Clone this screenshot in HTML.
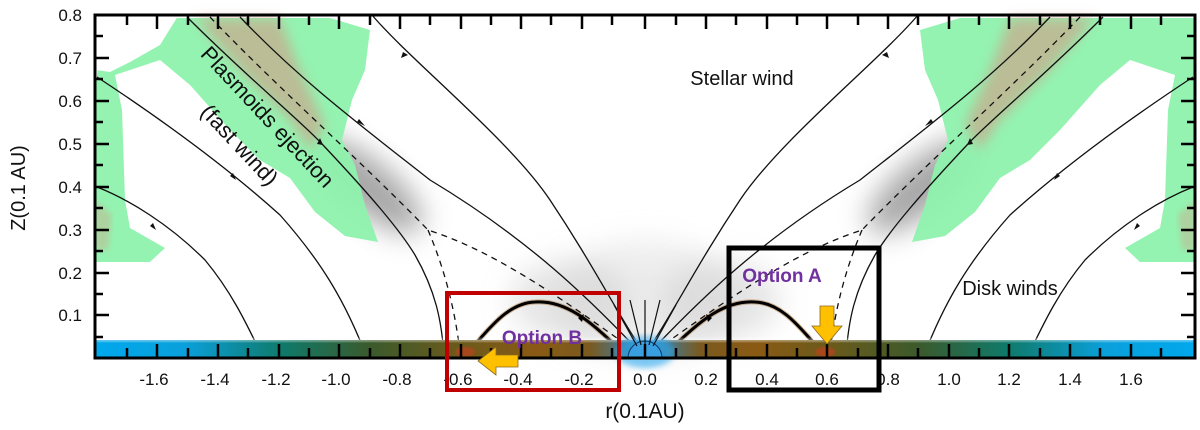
<!DOCTYPE html>
<html><head><meta charset="utf-8"><style>
html,body{margin:0;padding:0;background:#fff;}
svg{display:block;font-family:"Liberation Sans",sans-serif;}
</style></head><body>
<svg width="1200" height="430" viewBox="0 0 1200 430" xmlns="http://www.w3.org/2000/svg">
<defs>
<filter id="blur8" x="-50%" y="-50%" width="200%" height="200%"><feGaussianBlur stdDeviation="14"/></filter>
<filter id="blur5" x="-30%" y="-30%" width="160%" height="160%"><feGaussianBlur stdDeviation="6"/></filter>
<filter id="blur3"><feGaussianBlur stdDeviation="3"/></filter>
<filter id="blur1"><feGaussianBlur stdDeviation="1.2"/></filter>
<linearGradient id="disk" x1="0" x2="1" y1="0" y2="0">
<stop offset="0" stop-color="#00a8ec"/>
<stop offset="0.08" stop-color="#0aa0dc"/>
<stop offset="0.17" stop-color="#0f7a6a"/>
<stop offset="0.25" stop-color="#3b5a2c"/>
<stop offset="0.33" stop-color="#6a5a1c"/>
<stop offset="0.4" stop-color="#8a5a14"/>
<stop offset="0.45" stop-color="#7a5a20"/>
<stop offset="0.5" stop-color="#2a8ad0"/>
<stop offset="0.55" stop-color="#7a5a20"/>
<stop offset="0.6" stop-color="#8a5a14"/>
<stop offset="0.67" stop-color="#6a5a1c"/>
<stop offset="0.75" stop-color="#3b5a2c"/>
<stop offset="0.83" stop-color="#0f7a6a"/>
<stop offset="0.92" stop-color="#0aa0dc"/>
<stop offset="1" stop-color="#00a8ec"/>
</linearGradient>
<g id="half">
  <ellipse cx="925" cy="185" rx="70" ry="26" fill="#888" opacity="0.75" transform="rotate(-38 925 185)" filter="url(#blur8)"/>
  <ellipse cx="720" cy="300" rx="60" ry="40" fill="#ccc" opacity="0.5" filter="url(#blur8)"/>
  <path d="M920,30 L960,18 L1195,18 L1195,262 L1140,262 L1125,248 L1160,228 L1165,200 L1168,110 L1175,75 L1130,60 L1100,85 L1060,130 L1030,160 L1000,178 L975,212 L945,236 L912,242 L925,205 L935,165 L948,140 L938,100 L925,70 Z" fill="#8ef2ad" opacity="0.95"/>
  <path d="M1010,18 L1095,18 L1050,70 L1000,120 L980,150 L965,125 L990,70 Z" fill="#d49a85" opacity="0.6" filter="url(#blur5)"/>
  <path d="M1178,215 L1195,200 L1195,250 L1182,250 Z" fill="#d4a085" opacity="0.4" filter="url(#blur3)"/>
  <g fill="none" stroke="#111" stroke-width="1.3">
    <path d="M918,15 C880,60 780,140 740,200 C700,260 680,300 652,344"/>
    <path d="M1050,17 C990,80 930,125 860,180 C760,240 700,300 656,346"/>
    <path d="M1103,17 C1040,80 990,120 967,145 C920,195 890,230 875,255 C855,290 848,320 846,358"/>
    <path d="M1193,77 C1120,125 1060,170 1010,215 C970,260 945,300 923,358"/>
    <path d="M1193,187 C1160,200 1120,225 1085,260 C1060,290 1045,320 1027,358"/>
    <path d="M1080,17 C1010,90 930,160 862,230 C800,250 740,290 662,346" stroke-dasharray="6,5"/>
    <path d="M862,230 C845,270 835,310 830,352" stroke-dasharray="6,5"/>
  </g>
  <g fill="#111">
    <path d="M887,52 l-5,3 l7,3 z"/>
    <path d="M933,122 l-8,4 l6,-7 z"/>
    <path d="M967,145 l3,-7 l3,6 z"/>
    <path d="M1057,173 l-3,7 l6,-4 z"/>
    <path d="M1137,223 l-3,7 l6,-4 z"/>
  </g>
  <path d="M668,352 C700,320 725,300 755,302 C785,303 805,335 822,352" fill="none" stroke="#a0662a" stroke-width="5" opacity="0.45"/>
  <path d="M668,352 C700,320 725,300 755,302 C785,303 805,335 822,352" fill="none" stroke="#000" stroke-width="3"/>
  <path d="M712,318 l-6,-4 l2,8 z" fill="#000"/>
</g>
</defs>

<rect x="95" y="15" width="1100" height="343" fill="#fff"/>
<ellipse cx="645" cy="300" rx="90" ry="60" fill="#ddd" opacity="0.5" filter="url(#blur8)"/>
<use href="#half"/>
<use href="#half" transform="translate(1290,0) scale(-1,1)"/>
<path d="M96,16 L178,16 L160,45 L130,62 L110,72 L96,70 Z" fill="#fff"/>
<path d="M96,88 L96,16 L102,16 Z" fill="#fff"/>

<rect x="96" y="340" width="1098" height="18" fill="url(#disk)"/>
<rect x="96" y="338" width="1098" height="4" fill="#fff" opacity="0.4" filter="url(#blur1)"/>
<ellipse cx="645" cy="352" rx="30" ry="16" fill="#2aa8f0" opacity="0.6" filter="url(#blur3)"/>
<path d="M628,358 A17,17 0 0 1 662,358 Z" fill="#3a9fe0" stroke="#0a3a6a" stroke-width="1"/>
<ellipse cx="465" cy="352" rx="10" ry="5" fill="#c0401a" opacity="0.7" filter="url(#blur1)"/>
<ellipse cx="825" cy="352" rx="10" ry="5" fill="#c0401a" opacity="0.7" filter="url(#blur1)"/>
<g stroke="#111" stroke-width="1.2">
<line x1="645" y1="345" x2="645" y2="300"/><line x1="641" y1="345" x2="630" y2="300"/><line x1="649" y1="345" x2="660" y2="300"/>
<line x1="637" y1="346" x2="614" y2="305"/><line x1="653" y1="346" x2="676" y2="305"/>
</g>

<rect x="95" y="15" width="1100" height="343" fill="none" stroke="#000" stroke-width="3"/>
<g stroke="#000" stroke-width="2.5">
<path d="M127,358v-10M157,358v-14M188,358v-10M218,358v-14M248,358v-10M279,358v-14M309,358v-10M339,358v-14M370,358v-10M400,358v-14M430,358v-10M461,358v-14M491,358v-10M521,358v-14M551,358v-10M582,358v-14M612,358v-10M645,358v-14M676,358v-10M706,358v-14M736,358v-10M767,358v-14M797,358v-10M827,358v-14M858,358v-10M888,358v-14M918,358v-10M949,358v-14M979,358v-10M1009,358v-14M1040,358v-10M1070,358v-14M1100,358v-10M1131,358v-14M1161,358v-10"/>
<path d="M127,15v10M157,15v14M188,15v10M218,15v14M248,15v10M279,15v14M309,15v10M339,15v14M370,15v10M400,15v14M430,15v10M461,15v14M491,15v10M521,15v14M551,15v10M582,15v14M612,15v10M645,15v14M676,15v10M706,15v14M736,15v10M767,15v14M797,15v10M827,15v14M858,15v10M888,15v14M918,15v10M949,15v14M979,15v10M1009,15v14M1040,15v10M1070,15v14M1100,15v10M1131,15v14M1161,15v10"/>
<path d="M95,36h8M95,58h14M95,79h8M95,101h14M95,122h8M95,144h14M95,165h8M95,187h14M95,208h8M95,230h14M95,251h8M95,273h14M95,294h8M95,315h14M95,337h8"/>
<path d="M1195,36h-8M1195,58h-14M1195,79h-8M1195,101h-14M1195,122h-8M1195,144h-14M1195,165h-8M1195,187h-14M1195,208h-8M1195,230h-14M1195,251h-8M1195,273h-14M1195,294h-8M1195,315h-14M1195,337h-8"/>
</g>

<g font-size="17" fill="#111" text-anchor="end">
<text x="82" y="21">0.8</text><text x="82" y="64">0.7</text><text x="82" y="107">0.6</text><text x="82" y="150">0.5</text><text x="82" y="193">0.4</text><text x="82" y="236">0.3</text><text x="82" y="279">0.2</text><text x="82" y="321">0.1</text>
</g>
<g font-size="17" fill="#111" text-anchor="middle">
<text x="154" y="385">-1.6</text><text x="215" y="385">-1.4</text><text x="276" y="385">-1.2</text><text x="336" y="385">-1.0</text><text x="397" y="385">-0.8</text><text x="458" y="385">-0.6</text><text x="518" y="385">-0.4</text><text x="579" y="385">-0.2</text>
<text x="645" y="385">0.0</text><text x="706" y="385">0.2</text><text x="767" y="385">0.4</text><text x="827" y="385">0.6</text><text x="888" y="385">0.8</text><text x="949" y="385">1.0</text><text x="1009" y="385">1.2</text><text x="1070" y="385">1.4</text><text x="1131" y="385">1.6</text>
</g>
<text x="645" y="418" font-size="21" text-anchor="middle" fill="#111">r(0.1AU)</text>
<text transform="translate(25,188) rotate(-90)" font-size="20" text-anchor="middle" fill="#111">Z(0.1 AU)</text>

<text x="742" y="85" font-size="20" text-anchor="middle" fill="#111">Stellar wind</text>
<text x="1010" y="295" font-size="20" text-anchor="middle" fill="#111">Disk winds</text>
<text transform="translate(262,122) rotate(47)" font-size="22" text-anchor="middle" fill="#111">Plasmoids ejection</text>
<text transform="translate(234,150) rotate(47)" font-size="22" text-anchor="middle" fill="#111">(fast wind)</text>

<text x="542" y="344" font-size="19" font-weight="bold" text-anchor="middle" fill="#7030a0">Option B</text>
<text x="782" y="282" font-size="19" font-weight="bold" text-anchor="middle" fill="#7030a0">Option A</text>

<rect x="447" y="293" width="172" height="97" fill="none" stroke="#c00000" stroke-width="4"/>
<rect x="729" y="248" width="150" height="142" fill="none" stroke="#000" stroke-width="5"/>

<path d="M820,306 h14 v20 h8 l-15,18 l-15,-18 h8 z" fill="#ffc000" stroke="#8a6a20" stroke-width="0.8"/>
<path d="M518,355 v12 h-22 v8 l-18,-14 l18,-14 v8 z" fill="#ffc000" stroke="#8a6a20" stroke-width="0.8"/>
</svg>
</body></html>
